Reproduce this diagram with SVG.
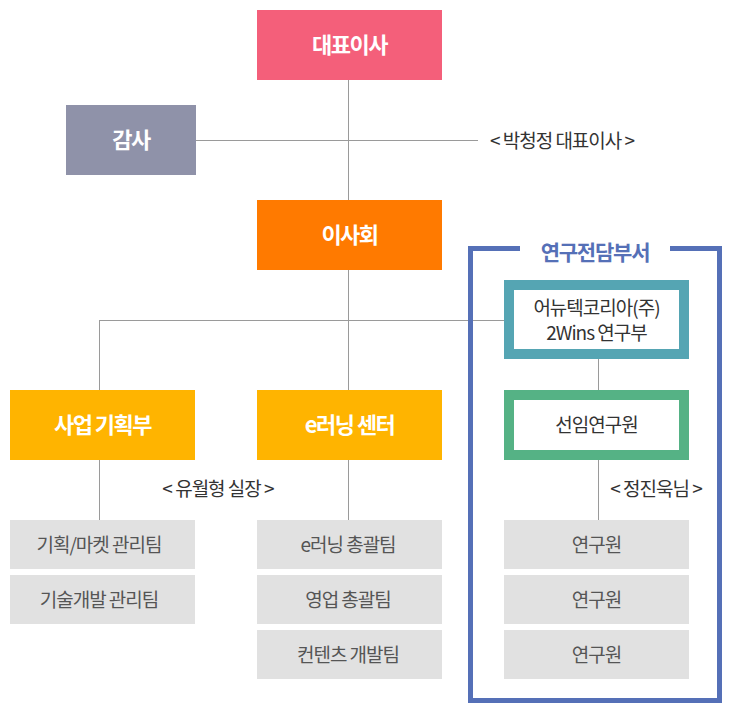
<svg xmlns="http://www.w3.org/2000/svg" width="732" height="718" viewBox="0 0 732 718">
<style>
text{font-family:"Noto Sans CJK KR","Noto Sans",sans-serif;text-anchor:middle}
.h{font-size:22px;font-weight:bold;fill:#fff;letter-spacing:-1.5px}
.g{font-size:19px;fill:#555;letter-spacing:-1px}
.d{font-size:19px;fill:#333;letter-spacing:-1px}
.ln{stroke:#9a9a9a;stroke-width:1;fill:none}
.sub{fill:#e1e1e1}
</style>
<rect width="732" height="718" fill="#fff"/>
<g id="connectors">
<path class="ln" d="M348.5,80V390M348.5,459V520M196,140.5H478M99,320.5H504M99.5,320V390M99.5,459V520M598.5,359V390M598.5,460V520"/>
</g>
<g id="frame">
<path d="M520,248.5H470.5V700.5H719.5V248.5H670" fill="none" stroke="#5570b7" stroke-width="5"/>
<text x="595" y="259.5" style="font-size:21px;font-weight:bold;fill:#5570b7;letter-spacing:-1.2px">연구전담부서</text>
</g>
<g id="ceo"><rect x="257" y="10" width="185" height="70" fill="#f45f7a"/><text class="h" x="349.5" y="53">대표이사</text></g>
<g id="audit"><rect x="66" y="105" width="130" height="70" fill="#8f92a9"/><text class="h" x="131" y="148">감사</text></g>
<text class="d" x="562" y="148">&lt; 박청정 대표이사 &gt;</text>
<g id="board"><rect x="257" y="200" width="185" height="70" fill="#ff7a00"/><text class="h" x="349.5" y="243">이사회</text></g>
<g id="biz"><rect x="10" y="390" width="185" height="70" fill="#ffb400"/><text class="h" x="102.5" y="433">사업 기획부</text></g>
<g id="elearn"><rect x="257" y="390" width="185" height="70" fill="#ffb400"/><text class="h" x="349.5" y="433">e러닝 센터</text></g>
<text class="d" x="218" y="496">&lt; 유월형 실장 &gt;</text>
<g id="lab"><rect x="509" y="285" width="175" height="69" fill="#fff" stroke="#55a5b3" stroke-width="10"/><text class="d" x="596.5" y="314.5">어뉴텍코리아(주)</text><text class="d" x="596.5" y="339.5">2Wins 연구부</text></g>
<g id="senior"><rect x="509" y="395" width="175" height="60" fill="#fff" stroke="#55b285" stroke-width="10"/><text class="d" x="596.5" y="432">선임연구원</text></g>
<text class="d" x="656" y="496">&lt; 정진욱님 &gt;</text>
<g id="t1"><rect class="sub" x="10" y="520" width="185" height="49"/><text class="g" x="99" y="551.5">기획/마켓 관리팀</text></g>
<g id="t2"><rect class="sub" x="10" y="575" width="185" height="49"/><text class="g" x="99" y="606.5">기술개발 관리팀</text></g>
<g id="t3"><rect class="sub" x="257" y="520" width="185" height="49"/><text class="g" x="348" y="551.5">e러닝 총괄팀</text></g>
<g id="t4"><rect class="sub" x="257" y="575" width="185" height="49"/><text class="g" x="348" y="606.5">영업 총괄팀</text></g>
<g id="t5"><rect class="sub" x="257" y="630" width="185" height="49"/><text class="g" x="348" y="661.5">컨텐츠 개발팀</text></g>
<g id="r1"><rect class="sub" x="504" y="520" width="185" height="49"/><text class="g" x="596.5" y="551.5">연구원</text></g>
<g id="r2"><rect class="sub" x="504" y="575" width="185" height="49"/><text class="g" x="596.5" y="606.5">연구원</text></g>
<g id="r3"><rect class="sub" x="504" y="630" width="185" height="49"/><text class="g" x="596.5" y="661.5">연구원</text></g>
</svg>
